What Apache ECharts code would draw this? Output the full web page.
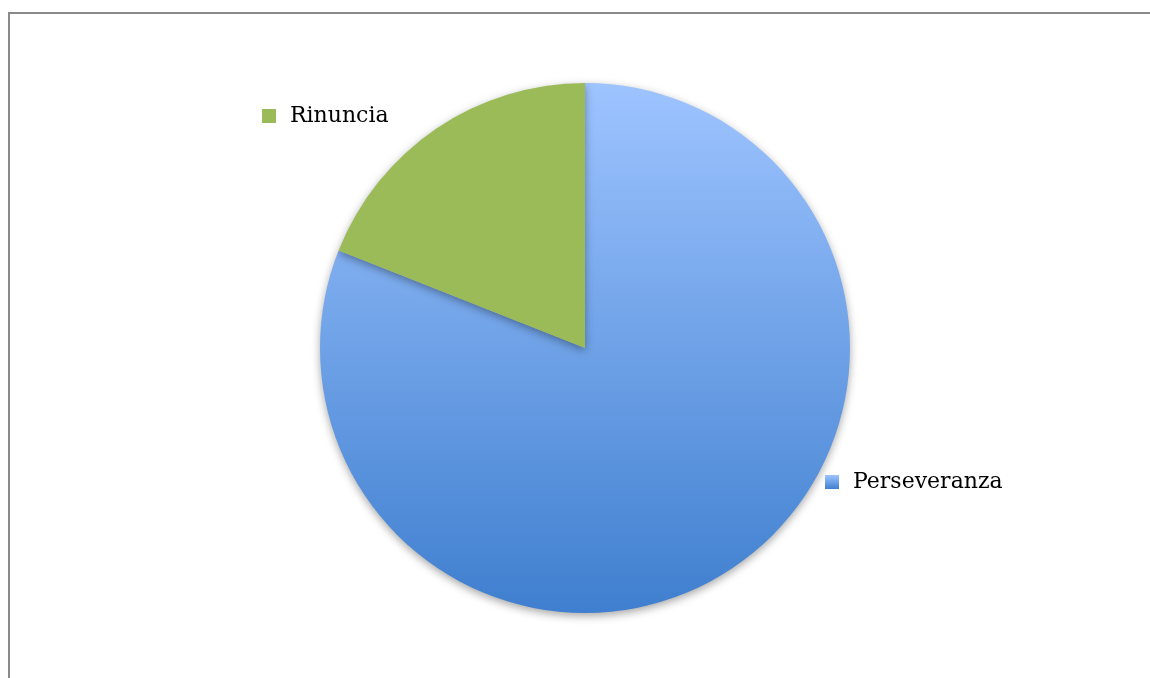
<!DOCTYPE html>
<html>
<head>
<meta charset="utf-8">
<style>
  html, body { margin: 0; padding: 0; background: #ffffff; }
  #chart { width: 1150px; height: 678px; }
</style>
<script src="https://cdn.jsdelivr.net/npm/echarts@6/dist/echarts.min.js"></script>
</head>
<body>
<div id="chart"></div>
<script>
// Slice names and shares
const categories = ['Perseveranza', 'Rinuncia'];
const values = [81, 19];

const blueFill = new echarts.graphic.LinearGradient(0, 0, 0, 1, [
  { offset: 0, color: '#9ec4ff' },
  { offset: 1, color: '#3f7fcf' }
]);
const greenFill = '#9bbb59';
const fills = [blueFill, greenFill];

const chart = echarts.init(document.getElementById('chart'), null, { renderer: 'canvas' });

const labelFont = {
  fontFamily: 'DejaVu Serif',
  fontSize: 22,
  color: '#000000',
  padding: [0, 0, 0, 9]
};

function legendAt(name, left, top) {
  return {
    data: [name],
    left: left,
    top: top,
    padding: 0,
    icon: 'rect',
    itemWidth: 14,
    itemHeight: 14,
    itemGap: 0,
    textStyle: labelFont,
    selectedMode: false
  };
}

chart.setOption({
  animation: false,
  backgroundColor: '#ffffff',
  graphic: [
    {
      type: 'polyline',
      shape: { points: [[9, 678], [9, 13], [1150, 13]] },
      style: { stroke: '#8a8a8a', lineWidth: 2, fill: null },
      silent: true
    }
  ],
  legend: [
    legendAt(categories[1], 262, 105),
    legendAt(categories[0], 825, 471)
  ],
  series: [
    {
      type: 'pie',
      center: [585, 348],
      radius: 265,
      startAngle: 90,
      clockwise: true,
      label: { show: false },
      labelLine: { show: false },
      emphasis: { disabled: true },
      itemStyle: {
        shadowColor: 'rgba(0,0,0,0.35)',
        shadowBlur: 8,
        shadowOffsetY: 3
      },
      data: categories.map((name, i) => ({
        name: name,
        value: values[i],
        itemStyle: { color: fills[i] }
      }))
    }
  ]
});
</script>
</body>
</html>
